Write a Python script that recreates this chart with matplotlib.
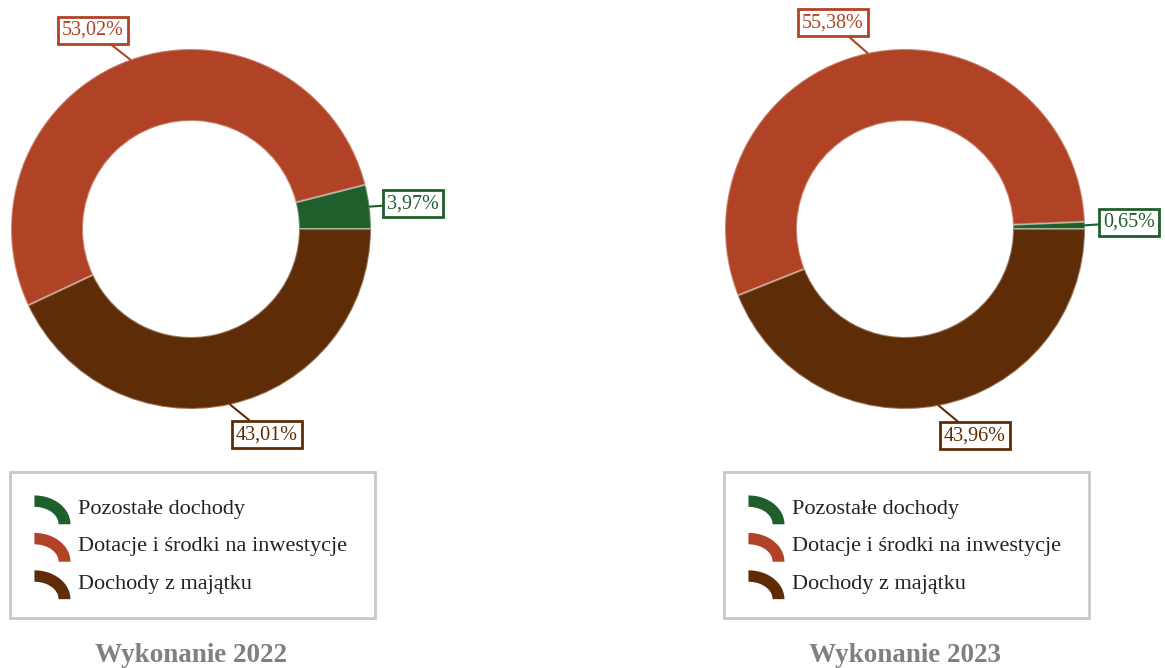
import numpy as np
import matplotlib.pyplot as plt
from matplotlib.path import Path
from matplotlib.patches import PathPatch
from matplotlib.legend_handler import HandlerBase

plt.rcParams['font.family'] = ['Liberation Serif', 'DejaVu Serif']

kategorie = ['Pozostałe dochody', 'Dotacje i środki na inwestycje', 'Dochody z majątku']
wartosci_2022 = [3.97, 53.02, 43.01]
wartosci_2023 = [0.65, 55.38, 43.96]
tytuly = ['Wykonanie 2022', 'Wykonanie 2023']
kolory = ['#1e5f2b', '#b04326', '#5e2d07']

W, H = 1165, 668


class HandlerLuk(HandlerBase):
    # znacznik legendy w ksztalcie cwiartki pierscienia
    def create_artists(self, legend, orig_handle, xdescent, ydescent,
                       width, height, fontsize, trans):
        x0, y0 = -xdescent, -ydescent - 0.4 * height
        rx, ry = width, height * 1.45
        t = 0.33
        th = np.linspace(np.pi / 2, 0, 30)
        zew = np.column_stack([x0 + rx * np.cos(th), y0 + ry * np.sin(th)])
        wew = np.column_stack([x0 + rx * (1 - t) * np.cos(th[::-1]),
                               y0 + ry * (1 - t * 1.2) * np.sin(th[::-1])])
        pts = np.vstack([zew, wew, zew[:1]])
        kody = [Path.MOVETO] + [Path.LINETO] * (len(pts) - 2) + [Path.CLOSEPOLY]
        p = PathPatch(Path(pts, kody), fc=orig_handle.get_facecolor(),
                      ec='none', transform=trans)
        return [p]


fig = plt.figure(figsize=(W / 100, H / 100), dpi=100)
ax = fig.add_axes([0, 0, 1, 1])

srodki = [191, 905]
cy = H - 229
R = 180

for i, (wart, tyt) in enumerate(zip([wartosci_2022, wartosci_2023], tytuly)):
    cx = srodki[i]
    kliny, _ = ax.pie(wart, colors=kolory, startangle=0, counterclock=True,
                      radius=R, center=(cx, cy),
                      wedgeprops=dict(width=72, edgecolor=(1, 1, 1, 0.35), linewidth=1.5))
    for k, v, kol in zip(kliny, wart, kolory):
        kat = np.deg2rad((k.theta1 + k.theta2) / 2)
        c, s = np.cos(kat), np.sin(kat)
        xy = (cx + R * c, cy + R * s)
        if abs(s) < 0.5:
            xt = (cx + (R + 18) * c, cy + R * s + 3)
        else:
            xt = (cx + (R + 22) * c + 1, cy + (R + 21) * s)
        ha = 'left' if c > 0 else 'right'
        va = 'center' if abs(s) < 0.5 else ('bottom' if s > 0 else 'top')
        ax.annotate(f'{v:.2f}%'.replace('.', ','), xy=xy, xytext=xt,
                    ha=ha, va=va, color=kol, fontsize=14.5,
                    bbox=dict(boxstyle='square,pad=0.2', fc='white', ec=kol, lw=2),
                    arrowprops=dict(arrowstyle='-', color=kol, lw=1.5,
                                    shrinkA=0, shrinkB=0))
    lewa = (10 if i == 0 else 724) / W
    leg = fig.legend(kliny, kategorie, handler_map={type(kliny[0]): HandlerLuk()},
                     loc='upper left', mode='expand',
                     bbox_to_anchor=(lewa, (H - 472) / H, 365 / W, 0.0),
                     borderaxespad=0, borderpad=1.1, labelspacing=0.67,
                     handlelength=1.62, handleheight=1.0, handletextpad=0.32,
                     fontsize=16, fancybox=False, edgecolor='#c8c8c8',
                     framealpha=1, labelcolor='#222222')
    leg.get_frame().set_linewidth(2)
    fig.text(cx / W, 1 - 656 / H, tyt, ha='center', va='center',
             fontsize=19.5, fontweight='bold', color='#808080')

ax.set_xlim(0, W)
ax.set_ylim(0, H)
ax.set_aspect('equal')
ax.axis('off')

fig.savefig('out.png', dpi=100)
